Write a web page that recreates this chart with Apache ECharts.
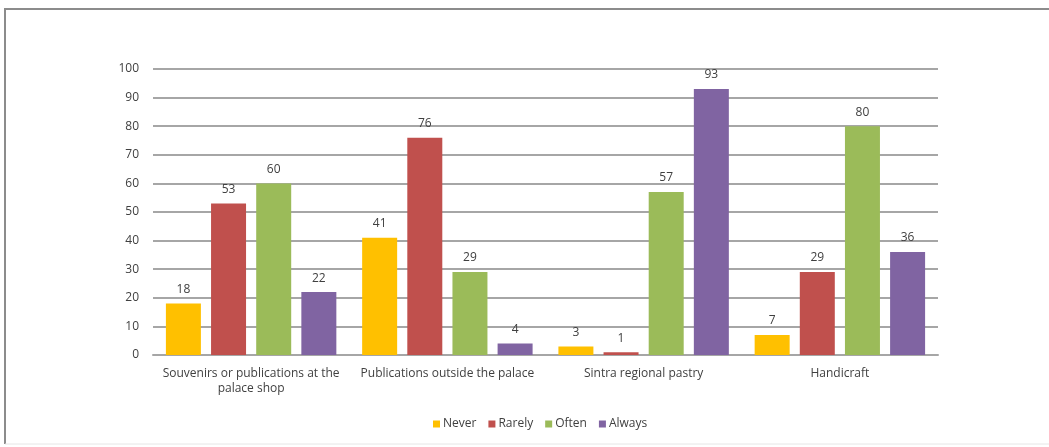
<!DOCTYPE html>
<html>
<head>
<meta charset="utf-8">
<script src="https://cdn.jsdelivr.net/npm/echarts@6/dist/echarts.min.js"></script>
<style>
  html, body { margin: 0; padding: 0; background: #fff; }
  #chart { width: 1049px; height: 447px; }
</style>
</head>
<body>
<div id="chart"></div>
<script>
// Purchase frequency by product type (%)
const categories = [
  'Souvenirs or publications at the\npalace shop',
  'Publications outside the palace',
  'Sintra regional pastry',
  'Handicraft'
];
const seriesNames = ['Never', 'Rarely', 'Often', 'Always'];
const never  = [18, 41, 3, 7];
const rarely = [53, 76, 1, 29];
const often  = [60, 29, 57, 80];
const always = [22, 4, 93, 36];
const yTicks = [0, 10, 20, 30, 40, 50, 60, 70, 80, 90, 100];

const colors = ['#FFC000', '#C0504D', '#9BBB59', '#8064A2'];
const values = [never, rarely, often, always];
const font = '"Open Sans", "Liberation Sans", Arial, sans-serif';
const textColor = '#404040';

const chart = echarts.init(document.getElementById('chart'), null, { renderer: 'canvas' });

chart.setOption({
  animation: false,
  backgroundColor: '#ffffff',
  textStyle: { fontFamily: font },
  // outer frame around the chart area
  graphic: [
    { type: 'line', shape: { x1: 4, y1: 9, x2: 1049, y2: 9 }, style: { stroke: '#8c8c8c', lineWidth: 2 } },
    { type: 'line', shape: { x1: 5, y1: 8, x2: 5, y2: 444 }, style: { stroke: '#8c8c8c', lineWidth: 2 } },
    { type: 'line', shape: { x1: 5, y1: 444, x2: 1049, y2: 444 }, style: { stroke: '#e6e6e6', lineWidth: 1 } }
  ],
  grid: { left: 153, right: 111, top: 69, bottom: 92, containLabel: false },
  legend: {
    data: seriesNames,
    left: 428,
    top: 413,
    itemWidth: 7,
    itemHeight: 7,
    itemGap: 12,
    icon: 'rect',
    textStyle: { fontSize: 12, color: textColor, fontFamily: font, padding: [0, 0, 0, -2] }
  },
  xAxis: {
    type: 'category',
    data: categories,
    axisLine: { show: true, lineStyle: { color: '#a6a6a6', width: 2 } },
    axisTick: { show: false },
    axisLabel: { fontSize: 12, color: textColor, margin: 11, lineHeight: 15, interval: 0, fontFamily: font }
  },
  yAxis: {
    type: 'value',
    min: yTicks[0],
    max: yTicks[yTicks.length - 1],
    interval: yTicks[1] - yTicks[0],
    axisLine: { show: false },
    axisTick: { show: false },
    axisLabel: { fontSize: 12, color: textColor, margin: 14, fontFamily: font },
    splitLine: { lineStyle: { color: '#a6a6a6', width: 2 } }
  },
  series: seriesNames.map((name, i) => ({
    name: name,
    type: 'bar',
    data: values[i],
    barWidth: 35,
    barGap: '29%',
    itemStyle: { color: colors[i] },
    label: {
      show: true,
      position: 'top',
      distance: 8,
      fontSize: 12,
      color: textColor,
      fontFamily: font
    }
  }))
});
</script>
</body>
</html>
